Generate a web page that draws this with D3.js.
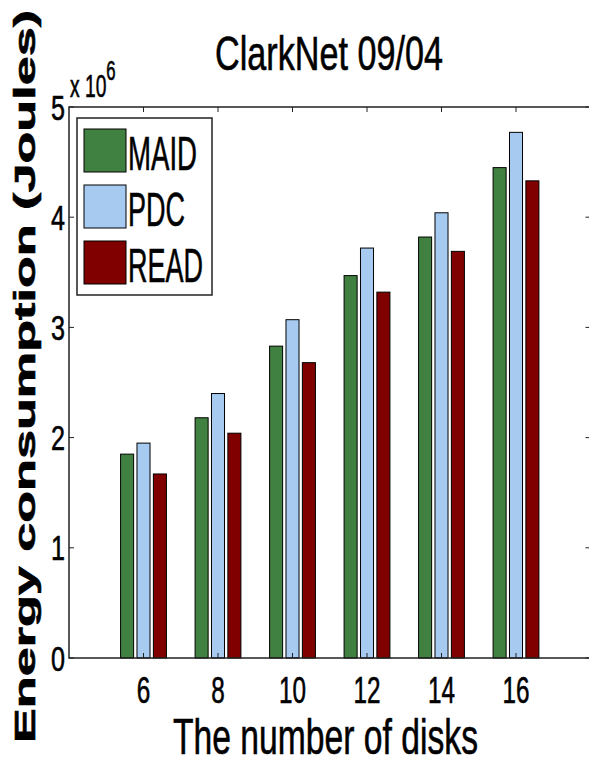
<!DOCTYPE html>
<html>
<head>
<meta charset="utf-8">
<script src="https://cdn.jsdelivr.net/npm/d3@7"></script>
<style>
  body { margin: 0; background: #fff; }
  text { font-family: "Liberation Sans", Arial, sans-serif; fill: #000; stroke: #000; stroke-width: 0.6px; }
</style>
</head>
<body>
<div id="chart"></div>
<script>
// data (energy in units of 10^6 Joules)
const disks = [6, 8, 10, 12, 14, 16];
const series = ['MAID', 'PDC', 'READ'];
const maid = [1.85, 2.18, 2.83, 3.47, 3.82, 4.45];
const pdc  = [1.95, 2.40, 3.07, 3.72, 4.04, 4.77];
const read = [1.67, 2.04, 2.68, 3.32, 3.69, 4.33];
const yTicks = [0, 1, 2, 3, 4, 5];

const colors = {MAID: '#408040', PDC: '#a6caf0', READ: '#800000'};
const values = {MAID: maid, PDC: pdc, READ: read};

const svgWidth = 589, svgHeight = 762;
const plot = {left: 69, right: 590.5, top: 107, bottom: 658};

const svg = d3.select('#chart')
    .append('svg')
    .attr('width', svgWidth)
    .attr('height', svgHeight);

const xScale = d3.scaleLinear().domain([4, 18]).range([plot.left, plot.right]);
const yScale = d3.scaleLinear().domain([0, 5]).range([plot.bottom, plot.top]);

// squeeze text horizontally to match the stretched figure
function squeeze(sel, width) {
    sel.attr('textLength', width).attr('lengthAdjust', 'spacingAndGlyphs');
}

const barW = 0.35, offs = [-0.44, 0, 0.44];

series.forEach((s, i) => {
    svg.append('g').selectAll('rect')
        .data(disks.map((d, j) => ({x: d, v: values[s][j]})))
        .enter()
        .append('rect')
        .attr('x', d => xScale(d.x + offs[i] - barW / 2))
        .attr('width', xScale(barW) - xScale(0))
        .attr('y', d => yScale(d.v))
        .attr('height', d => yScale(0) - yScale(d.v))
        .attr('fill', colors[s])
        .attr('stroke', '#000')
        .attr('stroke-width', 1);
});

// axes box
svg.append('rect')
    .attr('x', plot.left).attr('y', plot.top)
    .attr('width', plot.right - plot.left)
    .attr('height', plot.bottom - plot.top)
    .attr('fill', 'none')
    .attr('stroke', '#222')
    .attr('stroke-width', 1.5);

const tickLen = 5;
const ticks = svg.append('g').attr('stroke', '#222').attr('stroke-width', 1);
disks.forEach(d => {
    ticks.append('line').attr('x1', xScale(d)).attr('x2', xScale(d))
        .attr('y1', plot.top).attr('y2', plot.top + tickLen);
    ticks.append('line').attr('x1', xScale(d)).attr('x2', xScale(d))
        .attr('y1', plot.bottom).attr('y2', plot.bottom - tickLen);
});
yTicks.forEach(t => {
    ticks.append('line').attr('x1', plot.left).attr('x2', plot.left + tickLen)
        .attr('y1', yScale(t)).attr('y2', yScale(t));
    ticks.append('line').attr('x1', plot.right).attr('x2', plot.right - tickLen)
        .attr('y1', yScale(t)).attr('y2', yScale(t));
});

// tick labels
svg.append('g').selectAll('text')
    .data(disks)
    .enter()
    .append('text')
    .attr('x', d => xScale(d))
    .attr('y', 703)
    .attr('text-anchor', 'middle')
    .attr('font-size', 37)
    .attr('textLength', d => String(d).length * 13.5)
    .attr('lengthAdjust', 'spacingAndGlyphs')
    .text(d => d);

svg.append('g').selectAll('text')
    .data(yTicks)
    .enter()
    .append('text')
    .attr('x', 65)
    .attr('y', d => yScale(d) + 12.5)
    .attr('text-anchor', 'end')
    .attr('font-size', 35)
    .attr('textLength', 14)
    .attr('lengthAdjust', 'spacingAndGlyphs')
    .text(d => d);

// exponent, one text with a raised tspan
const expo = svg.append('text')
    .attr('transform', 'translate(70, 97) scale(0.62, 1)')
    .attr('font-size', 31);
expo.append('tspan').text('x 10');
expo.append('tspan').attr('dy', -17).attr('font-size', 27).text('6');

// title and axis labels
svg.append('text').attr('x', 215).attr('y', 70).attr('font-size', 49)
    .call(squeeze, 228).text('ClarkNet 09/04');

svg.append('text').attr('x', 173).attr('y', 754).attr('font-size', 50)
    .call(squeeze, 305).text('The number of disks');

svg.append('text')
    .attr('transform', 'translate(35, 743) rotate(-90)')
    .attr('font-family', '"DejaVu Sans", sans-serif')
    .attr('font-weight', 'bold')
    .attr('font-size', 30)
    .call(squeeze, 733)
    .text('Energy consumption (Joules)');

// legend
const legend = svg.append('g');
legend.append('rect')
    .attr('x', 77).attr('y', 118).attr('width', 135).attr('height', 177)
    .attr('fill', '#fff').attr('stroke', '#222').attr('stroke-width', 1.5);
const legendWidths = [69, 57, 75];
series.forEach((s, i) => {
    const y0 = 129 + i * 56;
    legend.append('rect')
        .attr('x', 84).attr('y', y0).attr('width', 42).attr('height', 43)
        .attr('fill', colors[s]).attr('stroke', '#000').attr('stroke-width', 1);
    legend.append('text')
        .attr('x', 128).attr('y', y0 + 41)
        .attr('font-size', 49)
        .call(squeeze, legendWidths[i])
        .text(s);
});
</script>
</body>
</html>
